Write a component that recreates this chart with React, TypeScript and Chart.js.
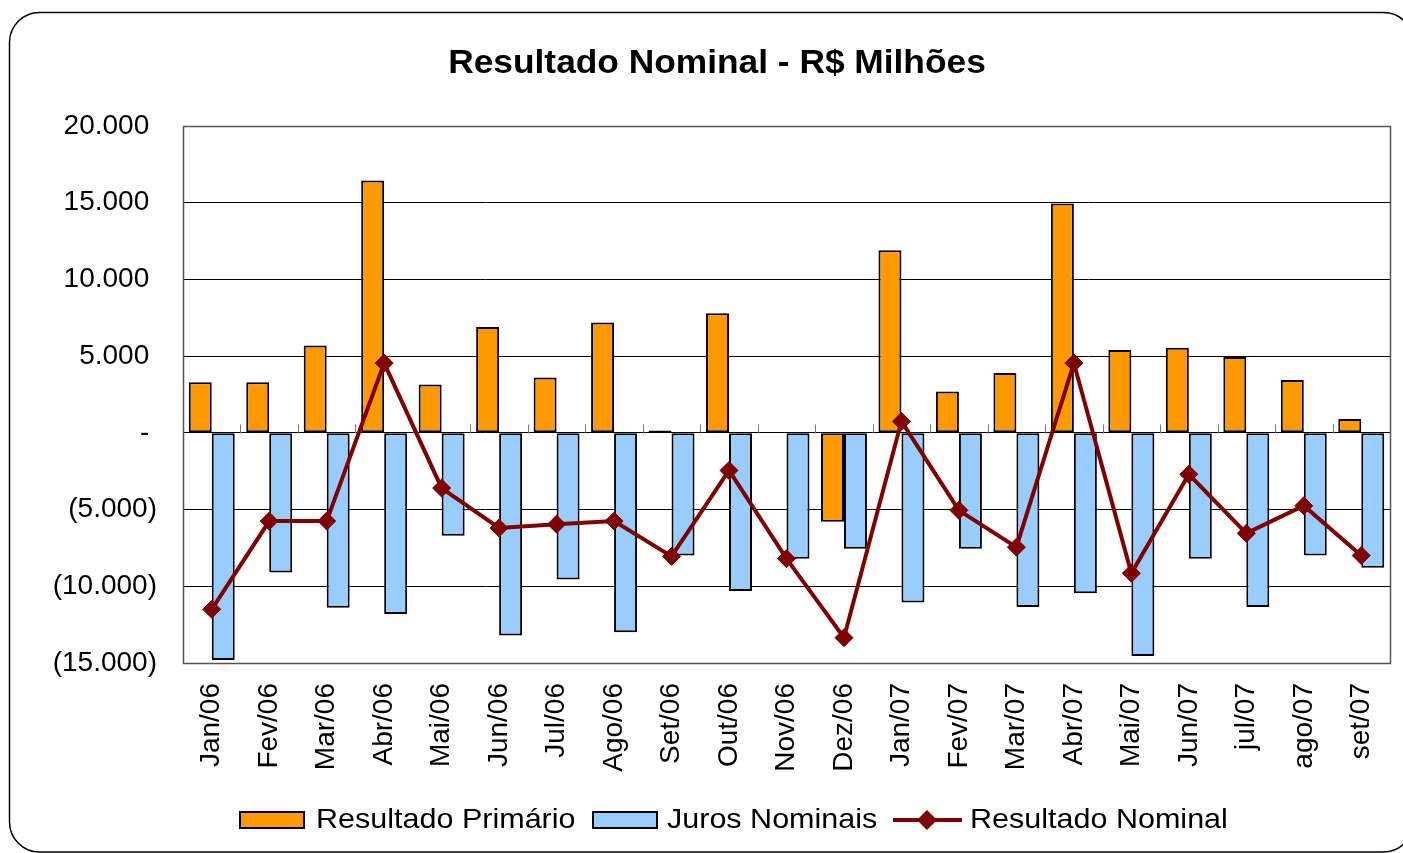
import React, { useEffect, useRef } from "react";
import { Chart, registerables } from "chart.js";

Chart.register(...registerables);

const categories = [
  "Jan/06", "Fev/06", "Mar/06", "Abr/06", "Mai/06", "Jun/06", "Jul/06", "Ago/06", "Set/06", "Out/06",
  "Nov/06", "Dez/06", "Jan/07", "Fev/07", "Mar/07", "Abr/07", "Mai/07", "Jun/07", "jul/07", "ago/07", "set/07",
];

const resultadoPrimario = [
  3300, 3300, 5700, 16450, 3150, 6900, 3600, 7200, 150, 7800,
  null, -5800, 11900, 2700, 3900, 14950, 5400, 5550, 4950, 3450, 900,
];

const jurosNominais = [
  -14800, -9100, -11400, -11800, -6700, -13200, -9550, -13000, -8000, -10300,
  -8200, -7550, -11050, -7550, -11350, -10450, -14550, -8200, -11350, -8000, -8800,
];

const resultadoNominal = [
  -11500, -5750, -5750, 4550, -3600, -6200, -5950, -5750, -8050, -2450,
  -8200, -13350, 750, -5050, -7450, 4550, -9150, -2700, -6550, -4750, -8000,
];

const yTickValues = [-15000, -10000, -5000, 0, 5000, 10000, 15000, 20000];
const yTickLabels = ["(15.000)", "(10.000)", "(5.000)", "- ", "5.000 ", "10.000 ", "15.000 ", "20.000 "];

const seriesNames = ["Resultado Primário", "Juros Nominais", "Resultado Nominal"];
const titleText = "Resultado Nominal - R$ Milhões";

const FONT = "'Liberation Sans', Arial, Helvetica, sans-serif";
const ORANGE = "#FF9900";
const BLUE = "#99CCFF";
const DARKRED = "#800000";

function stretchedText(ctx: CanvasRenderingContext2D, text: string, x: number, y: number, sx: number) {
  ctx.save();
  ctx.translate(x, y);
  ctx.scale(sx, 1);
  ctx.fillText(text, 0, 0);
  ctx.restore();
}

function roundedRect(ctx: CanvasRenderingContext2D, x: number, y: number, w: number, h: number, r: number) {
  ctx.beginPath();
  ctx.moveTo(x + r, y);
  ctx.lineTo(x + w - r, y);
  ctx.arcTo(x + w, y, x + w, y + r, r);
  ctx.lineTo(x + w, y + h - r);
  ctx.arcTo(x + w, y + h, x + w - r, y + h, r);
  ctx.lineTo(x + r, y + h);
  ctx.arcTo(x, y + h, x, y + h - r, r);
  ctx.lineTo(x, y + r);
  ctx.arcTo(x, y, x + r, y, r);
  ctx.closePath();
}

const decorPlugin = {
  id: "decor",
  beforeDraw(chart: any) {
    const ctx: CanvasRenderingContext2D = chart.ctx;
    ctx.save();
    ctx.fillStyle = "#fff";
    ctx.fillRect(0, 0, chart.width, chart.height);
    roundedRect(ctx, 9.5, 12.5, 1404, 839.5, 30);
    ctx.strokeStyle = "#000";
    ctx.lineWidth = 1.5;
    ctx.stroke();
    // title
    ctx.fillStyle = "#000";
    ctx.font = `bold 33px ${FONT}`;
    ctx.textAlign = "center";
    ctx.textBaseline = "alphabetic";
    stretchedText(ctx, titleText, 717, 73, 1.07);
    ctx.restore();
  },
  beforeDatasetsDraw(chart: any) {
    const ctx: CanvasRenderingContext2D = chart.ctx;
    const area = chart.chartArea;
    const y0 = Math.round(chart.scales.y.getPixelForValue(0)) + 0.5;
    const n = categories.length;
    ctx.save();
    ctx.strokeStyle = "#777";
    ctx.lineWidth = 1;
    for (let i = 1; i < n; i++) {
      const px = Math.round(area.left + (i * (area.right - area.left)) / n) + 0.5;
      ctx.beginPath();
      ctx.moveTo(px, y0);
      ctx.lineTo(px, y0 - 9);
      ctx.stroke();
    }
    ctx.restore();
  },
  afterDraw(chart: any) {
    const ctx: CanvasRenderingContext2D = chart.ctx;
    const area = chart.chartArea;
    ctx.save();
    // plot frame
    ctx.strokeStyle = "#555";
    ctx.lineWidth = 1.5;
    ctx.strokeRect(Math.round(area.left) + 0.5, Math.round(area.top) + 0.5, Math.round(area.right - area.left), Math.round(area.bottom - area.top));

    // legend
    ctx.font = `28px ${FONT}`;
    ctx.fillStyle = "#000";
    ctx.textAlign = "left";
    ctx.textBaseline = "alphabetic";
    const boxY = 812;
    const boxH = 16;
    ctx.fillStyle = ORANGE;
    ctx.fillRect(240, boxY, 64, boxH);
    ctx.strokeStyle = "#000";
    ctx.lineWidth = 2;
    ctx.strokeRect(240, boxY, 64, boxH);
    ctx.fillStyle = "#000";
    stretchedText(ctx, seriesNames[0], 316, 828, 1.09);
    ctx.fillStyle = BLUE;
    ctx.fillRect(593, boxY, 64, boxH);
    ctx.strokeRect(593, boxY, 64, boxH);
    ctx.fillStyle = "#000";
    stretchedText(ctx, seriesNames[1], 667, 828, 1.09);
    ctx.strokeStyle = DARKRED;
    ctx.lineWidth = 4;
    ctx.beginPath();
    ctx.moveTo(893, 820);
    ctx.lineTo(962, 820);
    ctx.stroke();
    ctx.fillStyle = DARKRED;
    ctx.beginPath();
    ctx.moveTo(927, 810);
    ctx.lineTo(937, 820);
    ctx.lineTo(927, 830);
    ctx.lineTo(917, 820);
    ctx.closePath();
    ctx.fill();
    ctx.fillStyle = "#000";
    stretchedText(ctx, seriesNames[2], 970, 828, 1.09);
    ctx.restore();
  },
};

export default function App() {
  const ref = useRef<HTMLCanvasElement>(null);

  useEffect(() => {
    if (!ref.current) return;
    const chart = new Chart(ref.current, {
      type: "bar",
      data: {
        labels: categories,
        datasets: [
          {
            type: "line",
            label: seriesNames[2],
            data: resultadoNominal,
            borderColor: DARKRED,
            backgroundColor: DARKRED,
            borderWidth: 4,
            pointStyle: "rectRot",
            pointRadius: 9,
            pointBorderWidth: 1,
            pointBackgroundColor: DARKRED,
            pointBorderColor: DARKRED,
            tension: 0,
            order: 0,
          },
          {
            type: "bar",
            label: seriesNames[0],
            data: resultadoPrimario,
            backgroundColor: ORANGE,
            borderColor: "#000",
            borderWidth: 2,
            borderSkipped: false,
            categoryPercentage: 0.8,
            barPercentage: 1.0,
            order: 1,
          },
          {
            type: "bar",
            label: seriesNames[1],
            data: jurosNominais,
            backgroundColor: BLUE,
            borderColor: "#000",
            borderWidth: 2,
            borderSkipped: false,
            categoryPercentage: 0.8,
            barPercentage: 1.0,
            order: 1,
          },
        ] as any,
      },
      options: {
        responsive: false,
        animation: false,
        layout: { padding: { top: 126, right: 13, bottom: 80, left: 0 } },
        plugins: {
          legend: { display: false },
          title: { display: false },
          tooltip: { enabled: false },
        },
        scales: {
          x: {
            type: "category",
            offset: true,
            grid: { display: false, drawTicks: false },
            border: { display: true, color: "#444", width: 1 },
            ticks: {
              autoSkip: false,
              maxRotation: 90,
              minRotation: 90,
              padding: 20,
              color: "#000",
              font: { family: FONT, size: 28 },
            },
            afterFit: (s: any) => {
              s.height = 110;
              s.paddingLeft = 0;
              s.paddingRight = 0;
            },
          },
          y: {
            min: -15000,
            max: 20000,
            grid: { color: "#000", lineWidth: 1, drawTicks: false },
            border: { display: true, color: "#444", width: 1 },
            ticks: {
              stepSize: 5000,
              padding: 26,
              color: "#000",
              font: { family: FONT, size: 28 },
              callback: (v: any) => {
                const i = yTickValues.indexOf(Number(v));
                return i >= 0 ? yTickLabels[i] : "";
              },
            },
            afterFit: (s: any) => {
              s.width = 183;
              s.paddingTop = 0;
              s.paddingBottom = 0;
            },
          },
        },
      } as any,
      plugins: [decorPlugin],
    });
    return () => chart.destroy();
  }, []);

  return (
    <div style={{ position: "fixed", left: 0, top: 0, width: 1403, height: 853, background: "#fff", overflow: "hidden" }}>
      <canvas ref={ref} width={1403} height={853} style={{ display: "block" }} />
    </div>
  );
}
